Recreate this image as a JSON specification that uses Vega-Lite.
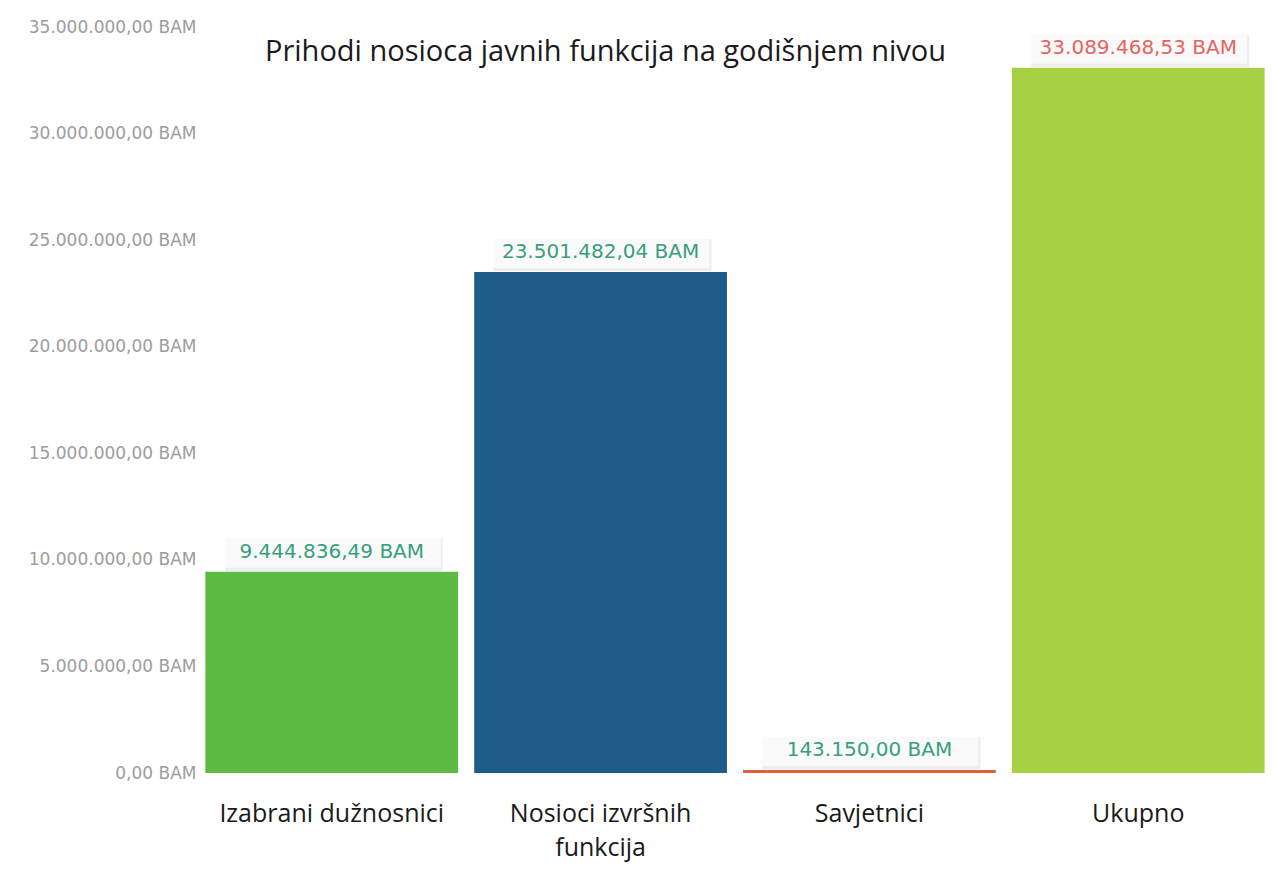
{
  "$schema": "https://vega.github.io/schema/vega-lite/v6.json",
  "autosize": {"type": "none"},
  "padding": {"left": 200, "top": 27, "right": 5, "bottom": 102},
  "width": 1070,
  "height": 746,
  "background": "white",
  "config": {
    "view": {"stroke": null},
    "locale": {"number": {"decimal": ",", "thousands": ".", "grouping": [3], "currency": ["", " BAM"]}}
  },
  "title": {
    "text": "Prihodi nosioca javnih funkcija na godišnjem nivou",
    "anchor": "start",
    "frame": "group",
    "dx": 65,
    "offset": -49,
    "font": "Open Sans",
    "fontSize": 29,
    "fontWeight": "normal",
    "color": "#1a1a1a"
  },
  "data": {
    "values": [
      {"kategorija": "Izabrani dužnosnici", "iznos": 9444836.49},
      {"kategorija": "Nosioci izvršnih funkcija", "iznos": 23501482.04},
      {"kategorija": "Savjetnici", "iznos": 143150},
      {"kategorija": "Ukupno", "iznos": 33089468.53}
    ]
  },
  "encoding": {
    "x": {
      "field": "kategorija",
      "type": "nominal",
      "sort": null,
      "scale": {"paddingInner": 0.06, "paddingOuter": 0.02},
      "axis": {
        "title": null,
        "domain": false,
        "ticks": false,
        "labelAngle": 0,
        "labelPadding": 28,
        "labelFont": "Open Sans",
        "labelFontSize": 25,
        "labelLimit": 400,
        "labelColor": "#1a1a1a",
        "labelLineHeight": 34,
        "labelExpr": "datum.value == 'Nosioci izvršnih funkcija' ? ['Nosioci izvršnih', 'funkcija'] : datum.value"
      }
    },
    "y": {
      "field": "iznos",
      "type": "quantitative",
      "scale": {"domain": [0, 35000000], "nice": false},
      "axis": {
        "title": null,
        "domain": false,
        "ticks": false,
        "grid": false,
        "values": [0, 5000000, 10000000, 15000000, 20000000, 25000000, 30000000, 35000000],
        "format": "$,.2f",
        "labelFont": "DejaVu Sans",
        "labelFontSize": 17,
        "labelColor": "#9c9c9c",
        "labelPadding": 4
      }
    }
  },
  "layer": [
    {
      "mark": {"type": "bar"},
      "encoding": {
        "color": {
          "field": "kategorija",
          "type": "nominal",
          "scale": {
            "domain": ["Izabrani dužnosnici", "Nosioci izvršnih funkcija", "Savjetnici", "Ukupno"],
            "range": ["#5dbb45", "#1e5d8a", "#d9603b", "#a8d045"]
          },
          "legend": null
        }
      }
    },
    {
      "mark": {"type": "tick", "thickness": 32, "size": 218, "color": "#e6e6e6", "yOffset": -17, "xOffset": 2}
    },
    {
      "mark": {"type": "tick", "thickness": 32, "size": 218, "color": "white", "yOffset": -20}
    },
    {
      "mark": {"type": "text", "font": "DejaVu Sans", "fontSize": 20, "baseline": "middle", "dy": -20},
      "encoding": {
        "text": {"field": "iznos", "type": "quantitative", "format": "$,.2f"},
        "color": {
          "condition": {"test": "datum.kategorija === 'Ukupno'", "value": "#e8625e"},
          "value": "#37a07a"
        }
      }
    }
  ]
}
